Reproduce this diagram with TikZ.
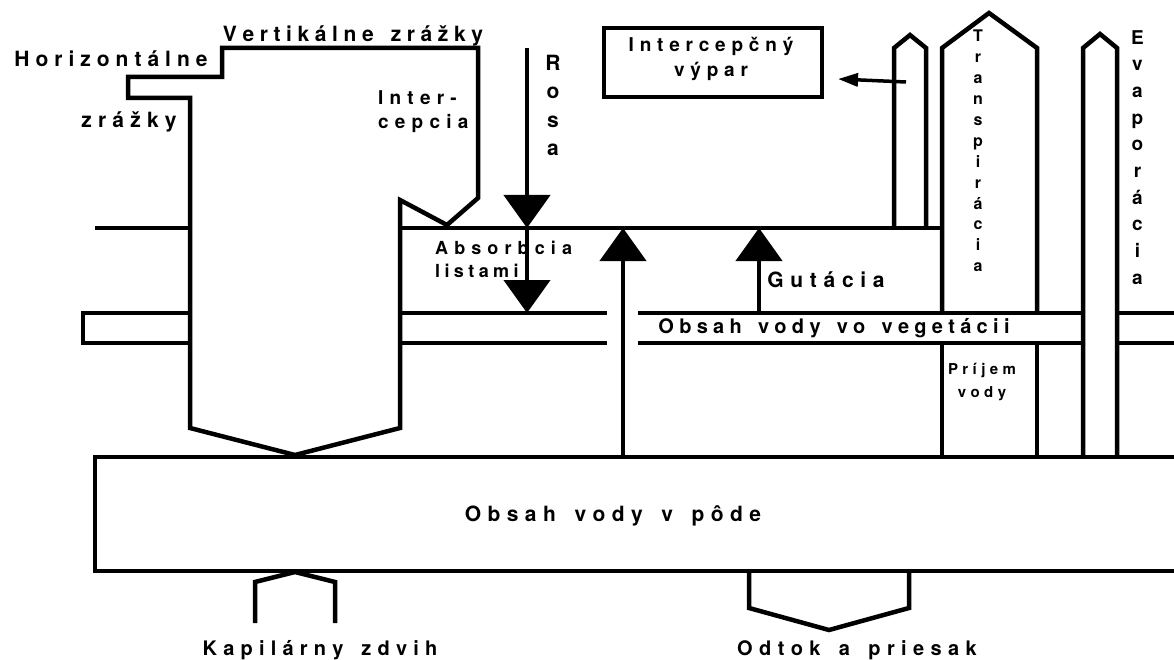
\documentclass[tikz,border=0pt]{standalone}
\usepackage{fontspec}
\setmainfont{Liberation Sans}
\newfontfamily\heros{texgyreheros-bold.otf}
\usetikzlibrary{arrows.meta}

% letter-spaced text: every glyph is followed by a fixed kern
\ExplSyntaxOn
\seq_new:N \l__lsp_words_seq
\bool_new:N \l__lsp_first_bool
\NewDocumentCommand \lsp { O{6pt} m }
  {
    \seq_set_split:Nnn \l__lsp_words_seq { ~ } { #2 }
    \bool_set_true:N \l__lsp_first_bool
    \seq_map_inline:Nn \l__lsp_words_seq
      {
        \bool_if:NF \l__lsp_first_bool { \c_space_tl \kern #1 }
        \bool_set_false:N \l__lsp_first_bool
        \tl_map_inline:nn { ##1 } { ####1 \kern #1 }
      }
    \unkern
  }
\ExplSyntaxOff

\tikzset{
  wall/.style={line width=4.5pt},
  lab/.style={inner sep=0pt, anchor=base,
    font=\heros\fontsize{#1}{#1}\selectfont},
  block/.style 2 args={inner sep=0pt, align=center,
    font=\heros\fontsize{#1}{#2}\selectfont},
  stack/.style 2 args={inner sep=0pt, align=center, anchor=north,
    font=\heros\fontsize{#1}{#2}\selectfont},
  bigtip/.style={-{Triangle[width=46pt,length=33pt]}},
}

\begin{document}
\begin{tikzpicture}[x=1pt,y=-1pt]
\useasboundingbox (0,0) rectangle (1174,660);

% soil water store
\draw[wall] (1174,457) -- (95,457) -- (95,571) -- (1174,571);
\node[lab=21] (soil) at (613,521) {\lsp[6.4pt]{Obsah vody v pôde}};

% precipitation funnel with interception
\draw[wall] (190,428) -- (190,98) -- (128,98) -- (128,77) -- (222,77)
  -- (222,48) -- (478,48) -- (478,198) -- (447,225) -- (400,200)
  -- (400,428) -- (295,455) -- cycle;

% canopy surface
\draw[wall] (95,228) -- (190,228);
\draw[wall] (400,228) -- (942,228);

% vegetation water band
\draw[wall] (190,313) -- (83,313) -- (83,343) -- (190,343);
\draw[wall] (400,313) -- (607,313);
\draw[wall] (400,343) -- (607,343);
\draw[wall] (638,313) -- (1083,313);
\draw[wall] (638,343) -- (1083,343);
\draw[wall] (1117,313) -- (1174,313);
\draw[wall] (1117,343) -- (1174,343);

% interception evaporation chimney
\draw[wall] (894,228) -- (894,48) -- (910,35) -- (926,48) -- (926,228);
% transpiration chimney and uptake
\draw[wall] (942,313) -- (942,48) -- (989,13) -- (1037,48) -- (1037,313);
\draw[wall] (942,343) -- (942,457);
\draw[wall] (1037,343) -- (1037,457);
% evaporation chimney
\draw[wall] (1083,457) -- (1083,48) -- (1100,34) -- (1117,48) -- (1117,457);

% capillary rise and runoff
\draw[wall] (255,623) -- (255,582) -- (295,572) -- (335,582) -- (335,623);
\draw[wall] (749,571) -- (749,608) -- (829,630) -- (909,608) -- (909,571);

% interception evaporation box
\node[draw, line width=4.5pt, minimum width=218pt, minimum height=69pt,
  inner sep=0pt] (ivbox) at (713,62.5) {};
\node[block={19}{25}, anchor=north] (ivtext) at (711,37)
  {\lsp[5.8pt]{Intercepčný}\\\lsp[5.8pt]{výpar}};

% labels
\node[lab=21] (vert) at (353,42) {\lsp[5.6pt]{Vertikálne zrážky}};
\node[lab=21] (hor) at (111,67) {\lsp[6pt]{Horizontálne}};
\node[lab=21] (zr) at (129,128) {\lsp[6.2pt]{zrážky}};
\node[block={19}{24}, align=left, anchor=north west] (icp) at (378,90)
  {\lsp[6.2pt]{Inter-}\\\lsp[6.2pt]{cepcia}};
\node[block={18}{23}, align=left, anchor=north west] (abs) at (435,241)
  {\lsp[6.1pt]{Absorbcia}\\\lsp[4.4pt]{listami}};
\node[lab=21] (gut) at (826,287) {\lsp[6.7pt]{Gutácia}};
\node[lab=20] (veg) at (834,333) {\lsp[5.3pt]{Obsah vody vo vegetácii}};
\node[block={15}{23}, anchor=north] (prij) at (982,363) {\lsp[4.4pt]{Príjem}\\\lsp[4.4pt]{vody}};
\node[lab=20] (kap) at (320,655) {\lsp[6.2pt]{Kapilárny zdvih}};
\node[lab=20] (odt) at (857,655) {\lsp[6.4pt]{Odtok a priesak}};
\node[stack={21}{28.3}] (rosa) at (553,55) {R\\o\\s\\a};
\node[stack={16}{20.9}] (transp) at (978,30) {T\\r\\a\\n\\s\\p\\i\\r\\á\\c\\i\\a};
\node[stack={19}{26.7}] (evap) at (1137.5,30) {E\\v\\a\\p\\o\\r\\á\\c\\i\\a};

% flux arrows
\coordinate (rosaTop) at (527,48);
\coordinate (rosaHit) at (527,228);
\coordinate (absHit) at (527,313);
\coordinate (soilUp) at (623,457);
\coordinate (upHit) at (623,228);
\coordinate (gutFoot) at (759,313);
\coordinate (gutHit) at (759,228);
\coordinate (ivFoot) at (906,82);
\coordinate (ivHit) at (838,79);
\draw[wall, bigtip] (rosaTop) -- (rosaHit);
\draw[wall, bigtip] (rosaHit) -- (absHit);
\draw[wall, bigtip] (soilUp) -- (upHit);
\draw[wall, bigtip] (gutFoot) -- (gutHit);
\draw[line width=3.5pt, -{Triangle[width=13pt,length=20pt]}] (ivFoot) -- (ivHit);
\end{tikzpicture}
\end{document}
